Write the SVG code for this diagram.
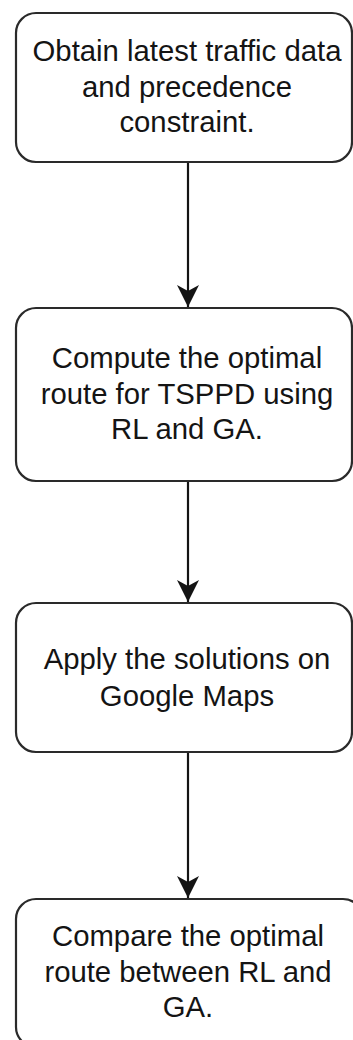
<svg xmlns="http://www.w3.org/2000/svg" width="353" height="1040" viewBox="0 0 353 1040">
  <style>
    .box { fill: #ffffff; stroke: #2a2a2a; stroke-width: 2.2; }
    .lbl { font-family: "Liberation Sans", Arial, Helvetica, sans-serif; font-size: 29.3px; fill: #141414; text-anchor: middle; }
    .edge { stroke: #141414; stroke-width: 2.2; fill: none; marker-end: url(#arrow); }
  </style>
  <defs>
    <marker id="arrow" markerUnits="userSpaceOnUse" markerWidth="24" markerHeight="24" refX="22" refY="11" orient="auto" viewBox="0 0 24 22">
      <path d="M0,0 L22,11 L0,22 L6,11 Z" fill="#141414"/>
    </marker>
  </defs>
  <rect width="353" height="1040" fill="#ffffff"/>

  <g id="connectors">
    <line class="edge" x1="188" y1="162" x2="188" y2="307"/>
    <line class="edge" x1="188" y1="481" x2="188" y2="602"/>
    <line class="edge" x1="188" y1="752" x2="188" y2="898"/>
  </g>

  <g id="node1">
    <rect class="box" x="16" y="13" width="336" height="149" rx="20" ry="20"/>
    <text class="lbl" x="187" y="61">Obtain latest traffic data</text>
    <text class="lbl" x="187" y="97">and precedence</text>
    <text class="lbl" x="187" y="132">constraint.</text>
  </g>

  <g id="node2">
    <rect class="box" x="16" y="308" width="336" height="173" rx="20" ry="20"/>
    <text class="lbl" x="187" y="368">Compute the optimal</text>
    <text class="lbl" x="187" y="404">route for TSPPD using</text>
    <text class="lbl" x="187" y="439">RL and GA.</text>
  </g>

  <g id="node3">
    <rect class="box" x="16" y="603" width="336" height="149" rx="20" ry="20"/>
    <text class="lbl" x="187" y="669">Apply the solutions on</text>
    <text class="lbl" x="187" y="706">Google Maps</text>
  </g>

  <g id="node4">
    <rect class="box" x="16" y="899" width="347" height="148" rx="20" ry="20"/>
    <text class="lbl" x="188" y="946">Compare the optimal</text>
    <text class="lbl" x="188" y="982">route between RL and</text>
    <text class="lbl" x="188" y="1017">GA.</text>
  </g>
</svg>
